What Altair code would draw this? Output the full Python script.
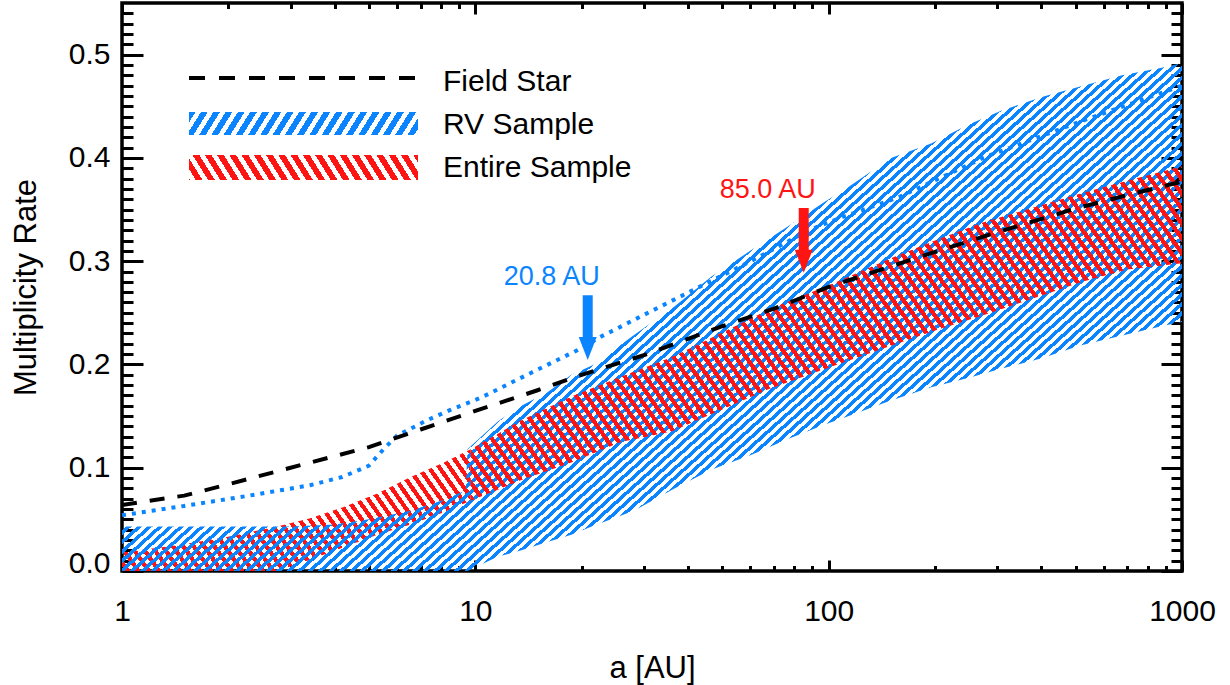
import math
import altair as alt
import pandas as pd

# ------------------------------------------------------------------ data
field_a = [1, 1.5, 2, 3, 5, 7, 10, 15, 20, 30, 50, 70, 100, 150, 200, 300, 500, 700, 1000]
field_rate = [0.064, 0.073, 0.084, 0.100, 0.120, 0.137, 0.155, 0.175, 0.190, 0.209,
              0.237, 0.254, 0.275, 0.295, 0.309, 0.328, 0.351, 0.364, 0.377]

rv_a = [1, 1.5, 2.2, 3.4, 4.2, 5.0, 5.5, 6.0, 7.3, 8.5, 10.4, 14.4, 19.5, 22.7, 30,
        46, 61, 88, 106, 158, 278, 533, 876, 1000]
rv_rate = [0.054, 0.063, 0.072, 0.083, 0.091, 0.102, 0.118, 0.131, 0.146, 0.156, 0.168,
           0.192, 0.214, 0.227, 0.248, 0.280, 0.301, 0.330, 0.341, 0.362, 0.401, 0.437,
           0.463, 0.470]

blue_a = [1, 2, 3, 4, 5, 6.5, 8, 9.4, 9.5, 11.6, 13.5, 16, 18.7, 21.7, 28, 36.6, 46.5,
          60, 77, 98, 114, 150, 195, 248, 309, 401, 512, 677, 899, 1000]
blue_lower = [0, 0, 0, 0, 0, 0, 0, 0, 0, 0.014, 0.020, 0.028, 0.035, 0.044, 0.058, 0.080,
              0.098, 0.112, 0.128, 0.142, 0.150, 0.165, 0.178, 0.187, 0.196, 0.206,
              0.218, 0.228, 0.238, 0.241]
blue_upper = [0.043, 0.043, 0.043, 0.045, 0.050, 0.058, 0.068, 0.078, 0.118, 0.145, 0.160,
              0.173, 0.190, 0.200, 0.228, 0.256, 0.285, 0.310, 0.334, 0.358, 0.372, 0.400,
              0.414, 0.432, 0.446, 0.459, 0.469, 0.480, 0.488, 0.492]

red_a = [1, 1.43, 1.98, 2.75, 3.41, 4.24, 5.28, 6.56, 8.15, 9.7, 13.5, 18.7, 25.8, 35.9,
         47.4, 67.5, 104, 153, 200, 270, 522, 700, 1000]
red_lower = [0, 0, 0, 0, 0.011, 0.023, 0.035, 0.045, 0.057, 0.068, 0.088, 0.105, 0.125,
             0.135, 0.153, 0.176, 0.199, 0.219, 0.233, 0.247, 0.280, 0.292, 0.298]
red_upper = [0.018, 0.025, 0.033, 0.043, 0.051, 0.062, 0.075, 0.091, 0.105, 0.118, 0.146,
             0.169, 0.188, 0.207, 0.227, 0.253, 0.279, 0.304, 0.320, 0.337, 0.366, 0.378,
             0.392]
red_split_a = 9.7   # left part drawn under the blue hatch, right part over it

arrow_sample = ["RV Sample", "Entire Sample"]
arrow_a = [20.8, 85.0]
arrow_label = ["20.8 AU", "85.0 AU"]
arrow_tail = [0.267, 0.3515]
arrow_neck = [0.222, 0.305]
arrow_head = [0.2155, 0.300]
label_rate = [0.285, 0.369]

x_major = [1, 10, 100, 1000]
x_minor = [m * d for d in (1, 10, 100) for m in range(2, 10)]
y_major = [0.0, 0.1, 0.2, 0.3, 0.4, 0.5]
y_minor = [round(i * 0.01, 2) for i in range(1, 55) if i % 10]

legend_labels = ["Field Star", "RV Sample", "Entire Sample"]

# ------------------------------------------------------------------ style
W, H = 1060, 568
Y_MAX = 0.55
FONT = "Liberation Sans"
BLUE = "#0a84ff"
RED = "#ff1414"
CLEAR = "transparent"


def stripes(color, x0, y0, bw, bh, angle, period, duty, up=True):
    """Hatch as a hard-stop linear gradient, phase-locked to the view so that
    neighbouring marks share the same stripe positions."""
    th = math.radians(angle)
    s, c = math.sin(th), math.cos(th)
    A, B = bw * s, bh * c
    k = (A + B) / (A * A + B * B)
    if up:
        x1, y1, x2, y2 = 0, 0, k * A, k * B
        fmin = x0 * s + y0 * c
    else:
        x1, y1, x2, y2 = 0, 1, k * A, 1 - k * B
        fmin = x0 * s - (y0 + bh) * c
    L = A + B
    stops = []
    j = math.floor(fmin / period)
    while j * period < fmin + L:
        def t(v):
            return min(max((v - fmin) / L, 0.0), 1.0)
        p0, p1, p2 = j * period, (j + duty) * period, (j + 1) * period
        stops += [alt.GradientStop(offset=t(p0), color=color),
                  alt.GradientStop(offset=t(p1), color=color),
                  alt.GradientStop(offset=t(p1), color=CLEAR),
                  alt.GradientStop(offset=t(p2), color=CLEAR)]
        j += 1
    return alt.LinearGradient(gradient="linear", stops=stops, x1=x1, y1=y1, x2=x2, y2=y2)


def band_box(a_vals, lo, hi):
    x0 = math.log10(min(a_vals)) / 3 * W
    x1 = math.log10(max(a_vals)) / 3 * W
    y0 = (1 - max(hi) / Y_MAX) * H
    y1 = (1 - min(lo) / Y_MAX) * H
    return x0, y0, x1 - x0, y1 - y0


# ------------------------------------------------------------------ frames
field_df = pd.DataFrame({"a": field_a, "rate": field_rate})
rv_df = pd.DataFrame({"a": rv_a, "rate": rv_rate})
blue_df = pd.DataFrame({"a": blue_a, "lower": blue_lower, "upper": blue_upper})
red_df = pd.DataFrame({"a": red_a, "lower": red_lower, "upper": red_upper})
red_left = red_df[red_df.a <= red_split_a]
red_right = red_df[red_df.a >= red_split_a]
arrow_df = pd.DataFrame({"sample": arrow_sample, "a": arrow_a, "label": arrow_label,
                         "tail": arrow_tail, "neck": arrow_neck, "head": arrow_head,
                         "lab": label_rate})
one = alt.Data(values=[{"k": 0}])

blue_fill = stripes(BLUE, *band_box(blue_a, blue_lower, blue_upper), 42, 7.0, 0.5, up=True)
red_fill_l = stripes(RED, *band_box(list(red_left.a), list(red_left.lower),
                                    list(red_left.upper)), 55, 8.5, 0.5, up=False)
red_fill_r = stripes(RED, *band_box(list(red_right.a), list(red_right.lower),
                                    list(red_right.upper)), 55, 8.5, 0.5, up=False)

xs = alt.Scale(type="log", domain=[1, 1000], nice=False, padding=0)
ys = alt.Scale(domain=[0, Y_MAX], nice=False, zero=False, padding=0)
col = alt.Color("sample:N", scale=alt.Scale(domain=arrow_sample, range=[BLUE, RED]),
                legend=None)


def X(axis=None):
    return alt.X("a:Q", scale=xs, axis=axis)


def Y(field, axis=None):
    return alt.Y(f"{field}:Q", scale=ys, axis=axis)


dotted = alt.Chart(rv_df).mark_line(color=BLUE, strokeWidth=4, strokeDash=[4, 6]).encode(
    x=X(), y=Y("rate"))
red_band_l = alt.Chart(red_left).mark_area(fill=red_fill_l).encode(
    x=X(), y=Y("upper"), y2="lower:Q")
blue_band = alt.Chart(blue_df).mark_area(fill=blue_fill).encode(
    x=X(), y=Y("upper"), y2="lower:Q")
red_band_r = alt.Chart(red_right).mark_area(fill=red_fill_r).encode(
    x=X(), y=Y("upper"), y2="lower:Q")
dashed = alt.Chart(field_df).mark_line(color="black", strokeWidth=4, strokeDash=[15, 13]).encode(
    x=X(), y=Y("rate"))

shaft = alt.Chart(arrow_df).mark_rule(strokeWidth=10).encode(
    x=X(), y=Y("tail"), y2="neck:Q", color=col)
head = alt.Chart(arrow_df).mark_point(shape="M-0.78,-1L0.78,-1L0,1Z", filled=True,
                                      size=529, opacity=1, strokeWidth=0).encode(
    x=X(), y=Y("head"), color=col)
atext = alt.Chart(arrow_df).mark_text(font=FONT, fontSize=27, dx=-36, baseline="middle",
                                      align="center").encode(
    x=X(), y=Y("lab"), text="label:N", color=col)

# legend (manual)
leg_line = alt.Chart(one).mark_rule(color="black", strokeWidth=4, strokeDash=[16, 14]).encode(
    x=alt.value(67), x2=alt.value(293), y=alt.value(75))
leg_blue = alt.Chart(one).mark_rect(
    fill=stripes(BLUE, 67, 109, 229, 23, 58, 10.4, 0.55, up=True)).encode(
    x=alt.value(67), x2=alt.value(296), y=alt.value(109), y2=alt.value(132))
leg_red = alt.Chart(one).mark_rect(
    fill=stripes(RED, 67, 152, 229, 25, 58, 10.4, 0.55, up=False)).encode(
    x=alt.value(67), x2=alt.value(296), y=alt.value(152), y2=alt.value(177))
leg_text = [
    alt.Chart(one).mark_text(text=t, font=FONT, fontSize=30, align="left",
                             baseline="middle", color="black").encode(
        x=alt.value(321), y=alt.value(yy))
    for t, yy in zip(legend_labels, [79, 122, 165])
]

# axes hosts (inward ticks on all four sides)
lab_x = alt.Axis(values=x_major, format="d", ticks=False, labelFontSize=30, labelPadding=25,
                 labelFlush=False,
                 title="a [AU]", titleFontSize=31, titleFontWeight="normal",
                 titleBaseline="top", titleY=82, orient="bottom")
lab_y = alt.Axis(values=y_major, format=".1f", ticks=False, labelFontSize=30, labelPadding=12,
                 labelFlush=True, labelFlushOffset=7, title="Multiplicity Rate",
                 titleFontSize=31, titleFontWeight="normal", titleBaseline="bottom",
                 titleX=-80, titleAngle=270, orient="left")


def tick_axis(orient, values, size, offset):
    return alt.Axis(orient=orient, values=values, tickSize=size, offset=offset,
                    labels=False, title=None, ticks=True)


hosts = [
    (lab_x, lab_y),
    (tick_axis("top", x_major, 11, -H), tick_axis("right", y_major, 21, -W)),
    (tick_axis("top", x_minor, 5.5, -H), tick_axis("right", y_minor, 11, -W)),
    (tick_axis("bottom", x_major, 11, -H), tick_axis("left", y_major, 21, -W)),
    (tick_axis("bottom", x_minor, 5.5, -H), tick_axis("left", y_minor, 11, -W)),
]
host_layers = [
    alt.Chart(field_df).mark_point(opacity=0).encode(x=X(ax), y=Y("rate", ay))
    for ax, ay in hosts
]

chart = alt.layer(
    dotted, red_band_l, blue_band, red_band_r, dashed, shaft, head, atext,
    leg_line, leg_blue, leg_red, *leg_text, *host_layers
).resolve_axis(x="independent", y="independent").properties(
    width=W, height=H,
    padding={"left": 122, "top": 3, "right": 1230 - 122 - W, "bottom": 685 - 3 - H},
    autosize=alt.AutoSizeParams(type="none"),
).configure_view(stroke="black", strokeWidth=3.5).configure_axis(
    grid=False, domain=False, tickColor="black", tickWidth=3, labelColor="black",
    titleColor="black", labelFont=FONT, titleFont=FONT
)

chart.save("out.html", embed_options={"renderer": "svg", "actions": False})
